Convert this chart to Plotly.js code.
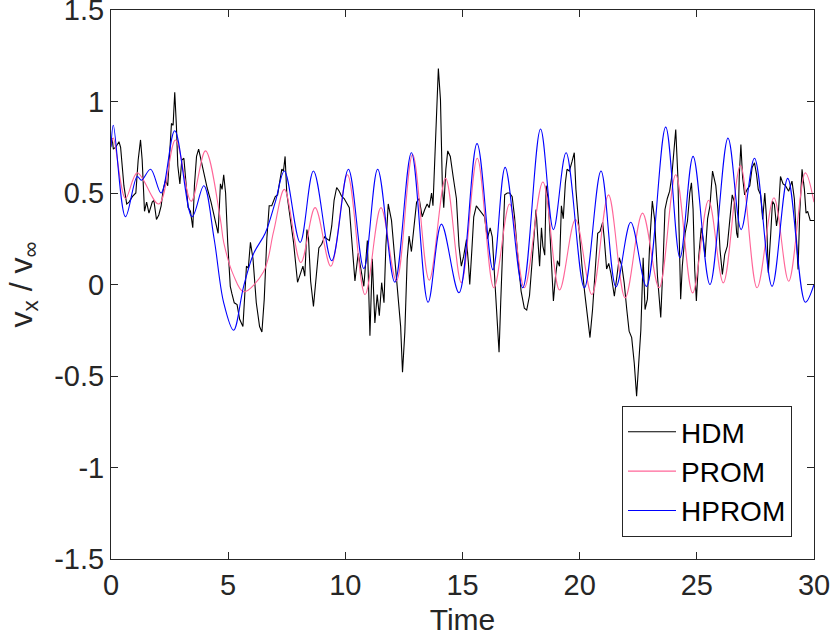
<!DOCTYPE html>
<html>
<head>
<meta charset="utf-8">
<script src="https://cdn.plot.ly/plotly-3.0.1.min.js"></script>
<style>html,body{margin:0;padding:0;background:#fff;}#chart{width:830px;height:636px;}</style>
</head>
<body>
<div id="chart"></div>
<script>
// ---- data ----
const hdmT = [0,0.05,0.10,0.20,0.34,0.41,0.55,0.67,0.77,0.91,1.06,1.16,1.26,1.33,1.43,1.52,1.62,1.76,1.83,1.94,2.04,2.14,2.23,2.33,2.42,2.51,2.58,2.65,2.72,2.79,2.85,2.94,3.02,3.11,3.20,3.29,3.39,3.49,3.56,3.65,3.74,3.84,3.96,4.10,4.27,4.45,4.57,4.67,4.74,4.81,4.89,4.98,5.09,5.16,5.26,5.38,5.49,5.63,5.70,5.78,5.86,5.95,6.06,6.20,6.34,6.44,6.54,6.65,6.75,6.86,7.01,7.11,7.19,7.29,7.36,7.43,7.50,7.62,7.79,7.96,8.07,8.19,8.27,8.36,8.43,8.52,8.64,8.75,8.87,8.99,9.11,9.21,9.32,9.42,9.52,9.63,9.74,9.85,9.95,10.08,10.17,10.27,10.41,10.55,10.70,10.79,10.94,11.05,11.15,11.26,11.36,11.45,11.55,11.65,11.73,11.83,11.97,12.12,12.26,12.36,12.44,12.54,12.64,12.72,12.82,12.92,13.04,13.15,13.28,13.39,13.49,13.58,13.68,13.74,13.81,13.89,13.97,14.06,14.14,14.20,14.29,14.37,14.48,14.60,14.74,14.85,14.95,15.05,15.17,15.25,15.31,15.40,15.48,15.59,15.70,15.85,15.94,16.06,16.18,16.27,16.37,16.47,16.56,16.63,16.70,16.80,16.91,17.01,17.12,17.22,17.36,17.50,17.64,17.74,17.86,17.97,18.07,18.14,18.21,18.29,18.37,18.43,18.51,18.57,18.66,18.74,18.83,18.88,18.97,19.05,19.14,19.22,19.30,19.39,19.46,19.56,19.67,19.77,19.84,19.93,20.01,20.10,20.21,20.34,20.44,20.55,20.67,20.77,20.87,20.98,21.05,21.15,21.24,21.33,21.48,21.58,21.69,21.80,21.90,22.01,22.11,22.22,22.33,22.43,22.51,22.61,22.71,22.79,22.89,22.99,23.10,23.20,23.32,23.46,23.56,23.64,23.74,23.84,23.93,24.02,24.10,24.19,24.24,24.31,24.38,24.50,24.60,24.70,24.77,24.84,24.91,24.98,25.08,25.19,25.29,25.35,25.46,25.56,25.67,25.81,25.90,25.99,26.09,26.19,26.30,26.41,26.51,26.61,26.70,26.75,26.81,26.88,26.95,27.04,27.15,27.26,27.36,27.46,27.55,27.62,27.72,27.81,27.90,27.97,28.05,28.15,28.23,28.31,28.40,28.48,28.57,28.68,28.78,28.92,29.06,29.16,29.25,29.32,29.39,29.49,29.59,29.66,29.73,29.84,30];
const hdmV = [0.76,0.80,0.74,0.75,0.78,0.75,0.54,0.44,0.45,0.48,0.50,0.68,0.79,0.68,0.40,0.45,0.39,0.45,0.46,0.355,0.38,0.43,0.52,0.57,0.54,0.77,0.88,0.87,1.05,0.87,0.65,0.55,0.68,0.69,0.55,0.42,0.40,0.31,0.54,0.70,0.74,0.68,0.60,0.53,0.45,0.355,0.28,0.55,0.52,0.60,0.50,0.23,-0.01,-0.05,-0.10,-0.11,-0.19,-0.23,-0.06,0.10,0.09,0.23,0.14,-0.10,-0.23,-0.26,-0.08,0.25,0.43,0.43,0.48,0.49,0.555,0.63,0.62,0.70,0.50,0.39,0.23,0.012,0.06,0.10,0.045,0.30,0.25,0.018,-0.12,0.045,0.20,0.22,0.26,0.25,0.24,0.32,0.46,0.53,0.51,0.48,0.47,0.44,0.42,0.25,0.02,0.17,0.06,-0.01,0.24,-0.28,0.14,-0.21,-0.055,-0.17,0.01,-0.10,0.21,0.44,0.35,0.14,-0.08,-0.23,-0.48,-0.26,0.14,0.265,0.18,0.32,0.45,0.47,0.37,0.41,0.44,0.42,0.50,0.43,0.65,0.92,1.18,1.01,0.54,0.42,0.63,0.73,0.70,0.59,0.47,0.21,0.10,0.155,0.245,0.12,0.0,0.19,0.37,0.43,0.41,0.38,0.37,0.25,0.31,0.26,0.027,-0.17,-0.37,-0.10,0.19,0.49,0.50,0.50,0.48,0.37,0.155,-0.036,-0.13,-0.14,-0.06,0.14,0.34,0.41,0.26,0.10,0.31,0.21,0.16,0.54,0.46,0.28,0.064,-0.09,0.045,0.13,0.10,0.43,0.36,0.556,0.63,0.62,0.67,0.72,0.52,0.37,0.23,0.10,-0.04,-0.20,-0.29,-0.137,0.064,0.28,0.29,0.34,0.25,0.085,0.115,0.064,-0.064,0.045,0.146,0.10,0.009,-0.137,-0.255,-0.29,-0.43,-0.61,-0.447,-0.25,0.146,-0.137,-0.08,0.23,0.456,0.355,0.045,-0.18,0.12,0.41,0.47,0.51,0.59,0.756,0.847,0.59,0.245,-0.08,0.10,0.28,0.347,0.50,0.556,0.41,0.082,-0.09,0.15,0.31,0.23,0.15,0.36,0.43,0.62,0.54,0.41,0.19,0.055,0.164,0.21,0.37,0.49,0.447,0.28,0.255,0.59,0.765,0.59,0.49,0.52,0.54,0.64,0.665,0.60,0.52,0.49,0.355,0.50,0.37,0.064,0.27,0.455,0.437,0.32,0.39,0.59,0.55,0.54,0.51,0.565,0.47,0.25,0.082,0.39,0.63,0.52,0.39,0.40,0.35,0.35];

const promT = [0,0.10,0.62,1.12,2.04,2.75,3.42,4.03,4.67,4.81,5.23,5.66,6.51,6.94,7.40,8.10,8.71,9.38,10.09,10.84,11.52,12.18,12.87,13.58,14.28,14.95,15.63,16.34,17.01,17.64,18.43,19.14,19.82,20.52,21.23,21.94,22.68,23.39,24.10,24.82,25.50,26.13,26.86,27.57,28.29,28.92,29.63,30];
const promV = [0.76,0.80,0.47,0.61,0.44,0.79,0.455,0.73,0.355,0.23,0.05,-0.04,0.07,0.29,0.52,0.12,0.42,0.10,0.60,-0.055,0.42,0.02,0.71,0.024,0.58,0.01,0.69,-0.018,0.44,-0.018,0.56,-0.03,0.355,-0.055,0.49,-0.073,0.39,-0.018,0.60,-0.046,0.46,0.009,0.65,-0.018,0.474,0.018,0.61,0.45];

const hpromT = [0,0.10,0.62,1.12,1.30,1.69,2.14,2.72,3.46,3.96,4.40,4.81,5.23,5.66,6.09,6.58,7.01,7.40,8.07,8.64,9.42,10.13,10.79,11.38,12.11,12.82,13.53,14.10,14.85,15.62,16.30,16.82,17.57,18.33,18.88,19.42,20.20,20.91,21.55,22.18,22.85,23.67,24.28,24.84,25.56,26.33,26.89,27.46,28.21,28.88,29.63,30];
const hpromV = [0.75,0.87,0.37,0.59,0.57,0.63,0.50,0.84,0.37,0.54,0.25,-0.10,-0.25,-0.01,0.17,0.28,0.45,0.62,0.23,0.62,0.13,0.63,0.086,0.63,0.013,0.72,-0.097,0.33,-0.045,0.77,0.08,0.64,-0.018,0.85,0.30,0.72,-0.018,0.62,-0.013,0.34,-0.01,0.86,0.146,0.70,0.0,0.80,0.30,0.69,-0.01,0.58,-0.097,0.0];

const seriesNames = ['HDM','PROM','HPROM'];
const xTickVals = [0,5,10,15,20,25,30];
const xTickText = ['0','5','10','15','20','25','30'];
const yTickVals = [-1.5,-1,-0.5,0,0.5,1,1.5];
const yTickText = ['-1.5','-1','-0.5','0','0.5','1','1.5'];

const FONT = 'Liberation Sans, Arial, Helvetica, sans-serif';
const AX = '#262626';

const traces = [
  {x: hdmT, y: hdmV, name: seriesNames[0], type: 'scatter', mode: 'lines',
   line: {color: '#000000', width: 1.1}},
  {x: promT, y: promV, name: seriesNames[1], type: 'scatter', mode: 'lines',
   line: {color: '#ff6699', width: 1.1, shape: 'spline', smoothing: 1}},
  {x: hpromT, y: hpromV, name: seriesNames[2], type: 'scatter', mode: 'lines',
   line: {color: '#0000ff', width: 1.1, shape: 'spline', smoothing: 1}}
];

const axisCommon = {
  showline: true, linecolor: AX, linewidth: 1, mirror: 'ticks',
  ticks: 'inside', ticklen: 7, tickwidth: 1, tickcolor: AX,
  showgrid: false, zeroline: false, automargin: false,
  ticklabeloverflow: 'allow',
  tickfont: {family: FONT, size: 29, color: AX}
};

const layout = {
  width: 830, height: 636,
  margin: {l: 111, r: 16, t: 10, b: 77},
  paper_bgcolor: '#ffffff', plot_bgcolor: '#ffffff',
  font: {family: FONT, color: AX},
  showlegend: true,
  xaxis: Object.assign({}, axisCommon, {
    range: [0, 30], tickvals: xTickVals, ticktext: xTickText,
    title: {text: 'Time', font: {family: FONT, size: 30, color: AX}, standoff: 15}
  }),
  yaxis: Object.assign({}, axisCommon, {
    range: [-1.5, 1.5], tickvals: yTickVals, ticktext: yTickText,
    title: {text: 'v<sub>x</sub> / v<sub>∞</sub>', font: {family: FONT, size: 32, color: AX}, standoff: 12}
  }),
  legend: {
    x: 0.9687, y: 0.040, xanchor: 'right', yanchor: 'bottom',
    bgcolor: '#ffffff', bordercolor: AX, borderwidth: 1,
    font: {family: FONT, size: 28, color: '#000000'},
    itemwidth: 48,
    tracegroupgap: 0
  }
};

Plotly.newPlot('chart', traces, layout, {staticPlot: true, displayModeBar: false});
</script>
</body>
</html>
